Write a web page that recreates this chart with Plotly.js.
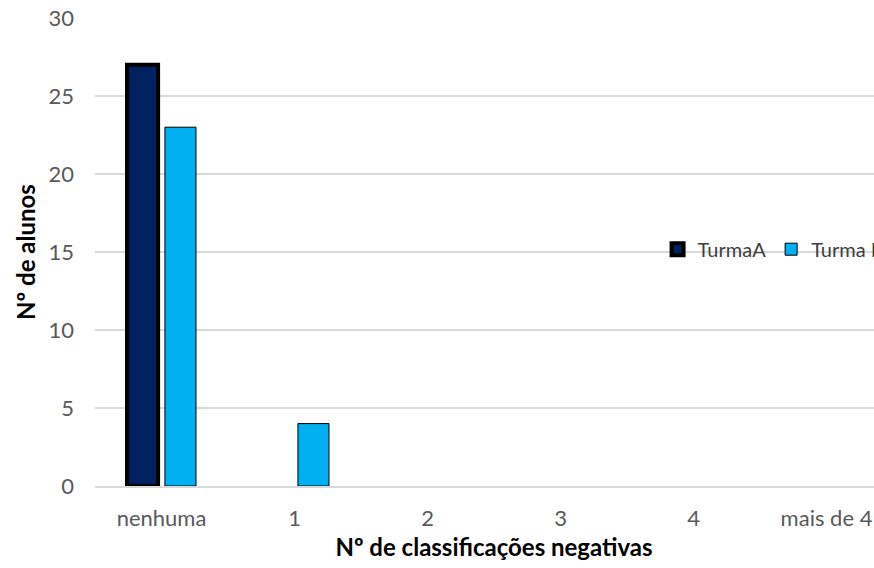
<!DOCTYPE html>
<html><head><meta charset="utf-8">
<script src="https://cdn.plot.ly/plotly-3.0.1.min.js"></script>
<style>html,body{margin:0;padding:0;overflow:hidden;background:#fff}</style>
</head><body><div id="chart"></div>
<script>
const categories = ['nenhuma', '1', '2', '3', '4', 'mais de 4'];
const turmaA = [27, 0, 0, 0, 0, 0];
const turmaB = [23, 4, 0, 0, 0, 0];
const seriesNames = ['TurmaA', 'Turma B'];
const yTicks = [0, 5, 10, 15, 20, 25, 30];
const xTitle = 'Nº de classificações negativas';
const yTitle = 'Nº de alunos';

const FONT = 'Lato, "Open Sans", sans-serif';
// zero-height bars are drawn with no outline, as in the reference
const outline = (vals, w) => vals.map(v => (v > 0 ? w : 0));
const traces = [
  {type: 'bar', name: seriesNames[0], x: categories, y: turmaA,
   marker: {color: '#002060', line: {color: '#000000', width: outline(turmaA, 4)}}},
  {type: 'bar', name: seriesNames[1], x: categories, y: turmaB,
   marker: {color: '#00B0F0', line: {color: '#000000', width: outline(turmaB, 1)}}}
];
const layout = {
  width: 910, height: 568,
  margin: {l: 95, r: 17, t: 18, b: 82},
  paper_bgcolor: '#ffffff', plot_bgcolor: '#ffffff',
  font: {family: FONT, color: '#595959', size: 22},
  barmode: 'group', bargap: 0.43, bargroupgap: 0.18,
  showlegend: true,
  legend: {orientation: 'h', x: 0.705, xanchor: 'left', y: 0.506, yanchor: 'middle',
           font: {family: FONT, size: 20, color: '#404040'}, bgcolor: 'rgba(0,0,0,0)'},
  xaxis: {type: 'category', showgrid: false, showline: true, linecolor: '#d9d9d9', linewidth: 1.5,
          ticks: '', ticklabelstandoff: 12, tickfont: {size: 22, color: '#595959'},
          title: {text: xTitle, font: {family: FONT, size: 24, color: '#000000', weight: 'bold'}, standoff: 9}},
  yaxis: {range: [0, 30], tickvals: yTicks, showgrid: true, gridcolor: '#d9d9d9', gridwidth: 1.5,
          zeroline: false, showline: false, ticks: '', ticklabelstandoff: 20,
          tickfont: {size: 22, color: '#595959'},
          title: {text: yTitle, font: {family: FONT, size: 24, color: '#000000', weight: 'bold'}, standoff: 6}}
};
Plotly.newPlot('chart', traces, layout, {displayModeBar: false, staticPlot: true});
</script></body></html>
